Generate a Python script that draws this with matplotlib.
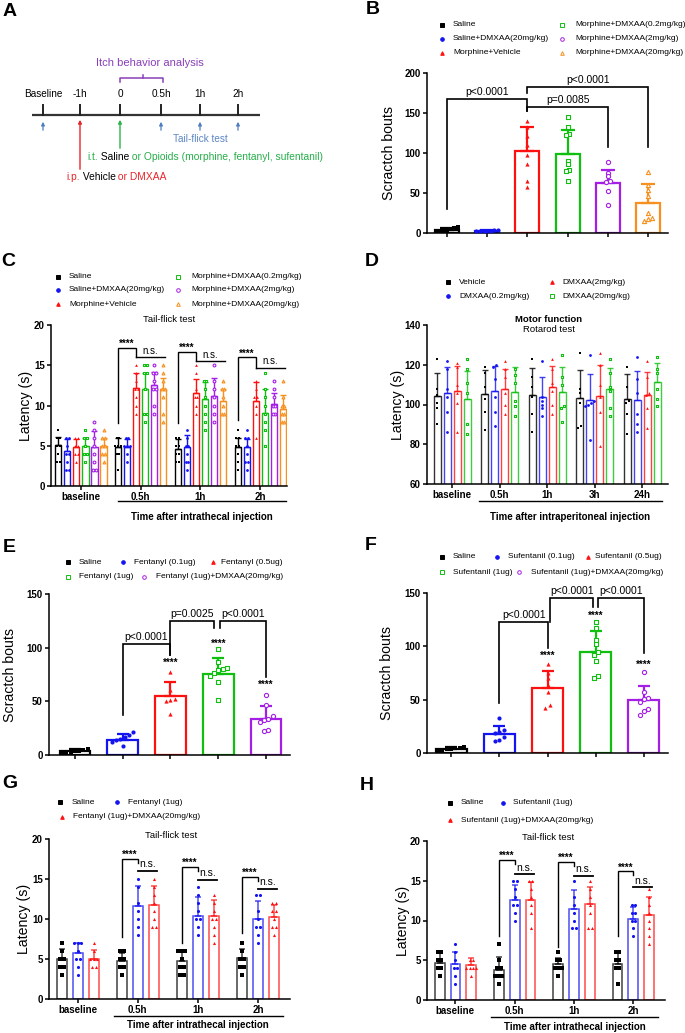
import numpy as np
import matplotlib
matplotlib.use('Agg')
import matplotlib.pyplot as plt
from matplotlib.lines import Line2D
from matplotlib.transforms import blended_transform_factory

plt.rcParams['font.family'] = ['Liberation Sans', 'DejaVu Sans']

# ============================ DATA ============================
# ---- Panel A (timeline) ----
A_times = ['Baseline', '-1h', '0', '0.5h', '1h', '2h']

# ---- Panel B ----
B_labels = ['Saline', 'Saline+DMXAA(20mg/kg)', 'Morphine+Vehicle',
            'Morphine+DMXAA(0.2mg/kg)', 'Morphine+DMXAA(2mg/kg)', 'Morphine+DMXAA(20mg/kg)']
B_mean = [4, 3, 102, 99, 63, 38]
B_sd = [2, 1, 31, 30, 16, 23]
B_points = [
    [2, 3, 4, 5, 6, 7, 3],
    [2, 2, 3, 3, 4, 4, 3],
    [140, 133, 121, 110, 98, 86, 65, 58],
    [145, 132, 124, 122, 90, 86, 79, 78, 65],
    [89, 75, 71, 65, 64, 53, 35],
    [76, 60, 54, 46, 25, 19, 18, 15],
]

# ---- Panel C ----
C_times = ['baseline', '0.5h', '1h', '2h']
C_mean = [
    [5.1, 4.9, 4.6, 4.9],
    [4.4, 4.9, 4.9, 4.9],
    [4.9, 12.2, 11.5, 10.6],
    [5.0, 12.1, 10.8, 9.1],
    [4.8, 12.5, 11.2, 10.2],
    [5.0, 12.0, 10.5, 9.6],
]
C_sd = [
    [1.0, 1.1, 1.3, 1.1],
    [1.5, 1.0, 1.4, 1.0],
    [1.0, 1.8, 1.8, 2.3],
    [1.0, 1.9, 2.1, 3.0],
    [2.0, 1.6, 2.2, 1.4],
    [1.0, 1.4, 1.5, 1.7],
]
C_points = [
    [[7, 6, 6, 5, 5, 4, 3, 3], [6, 6, 5, 5, 5, 4, 4, 2], [6, 6, 5, 5, 4, 4, 3, 3], [7, 6, 6, 5, 5, 4, 3, 2]],
    [[6, 6, 5, 4, 4, 3, 2, 2], [6, 6, 5, 5, 5, 4, 3], [7, 6, 5, 5, 4, 3, 3, 2], [7, 6, 6, 5, 4, 3, 3, 2]],
    [[6, 6, 5, 5, 4, 4, 3], [15, 14, 13, 12, 12, 11, 10, 9], [15, 14, 12, 11, 11, 10, 9], [13, 12, 11, 11, 10, 9, 6]],
    [[7, 6, 6, 5, 4, 4, 3], [15, 15, 14, 14, 12, 9, 9, 8], [13, 13, 12, 11, 10, 9, 8, 7], [14, 12, 11, 10, 9, 8, 7, 5]],
    [[8, 7, 6, 5, 4, 3, 2, 2], [15, 14, 14, 13, 12, 12, 10, 9], [15, 13, 12, 11, 10, 9, 8], [13, 12, 11, 10, 10, 9, 9]],
    [[7, 6, 6, 5, 5, 4, 4, 3], [15, 14, 13, 12, 12, 11, 9, 8], [13, 12, 12, 11, 10, 9, 9], [13, 11, 10, 10, 9, 9, 8, 8]],
]
C_star_top = [17.2, 16.7, 16.0]
C_star_left = [7.8, 7.8, 8.2]
C_ns = [16.0, 15.5, 14.7]

# ---- Panel D ----
D_labels = ['Vehicle', 'DMXAA(0.2mg/kg)', 'DMXAA(2mg/kg)', 'DMXAA(20mg/kg)']
D_times = ['baseline', '0.5h', '1h', '3h', '24h']
D_mean = [
    [104.4, 105.2, 105.0, 103.4, 102.9],
    [105.6, 106.7, 103.9, 102.2, 102.2],
    [106.7, 107.7, 108.7, 104.2, 105.0],
    [102.7, 106.4, 106.4, 107.6, 111.4],
]
D_sd = [
    [11.2, 12.1, 13.4, 13.9, 12.4],
    [13.3, 12.6, 9.7, 13.1, 14.7],
    [12.7, 10.4, 10.6, 15.6, 11.4],
    [14.1, 12.5, 12.5, 11.0, 9.7],
]
D_points = [
    [[123, 108, 105, 101, 98, 90], [119, 116, 109, 103, 96, 87], [123, 114, 109, 104, 95, 86],
     [126, 108, 106, 101, 89, 88], [119, 109, 102, 101, 95, 85]],
    [[122, 118, 108, 104, 96, 86], [120, 119, 113, 104, 96, 89], [122, 104, 102, 100, 98, 94],
     [125, 102, 101, 100, 99, 82], [124, 113, 106, 95, 90, 86]],
    [[121, 119, 110, 106, 101, 86], [122, 118, 114, 106, 100, 95], [123, 118, 111, 107, 100, 95],
     [126, 120, 110, 104, 96, 79], [122, 114, 106, 105, 98, 88]],
    [[123, 118, 111, 106, 90, 85], [118, 115, 111, 102, 99, 94], [125, 114, 110, 99, 98, 91],
     [123, 116, 109, 107, 98, 94], [124, 118, 116, 108, 103, 99]],
]

# ---- Panel E ----
E_labels = ['Saline', 'Fentanyl (0.1ug)', 'Fentanyl (0.5ug)', 'Fentanyl (1ug)',
            'Fentanyl (1ug)+DMXAA(20mg/kg)']
E_mean = [4, 14, 55.4, 75.6, 33.6]
E_sd = [1.5, 5.6, 12.8, 14.7, 12.4]
E_points = [
    [2, 3, 4, 5, 6, 4, 3],
    [21, 19, 17, 15, 14, 12, 8],
    [77, 61, 52, 51, 50, 38],
    [99, 87, 81, 80, 79, 76, 74, 68, 51],
    [56, 47, 36, 34, 33, 31, 23, 22],
]
E_stars = [(2, 86), (3, 104), (4, 65)]

# ---- Panel F ----
F_labels = ['Saline', 'Sufentanil (0.1ug)', 'Sufentanil (0.5ug)', 'Sufentanil (1ug)',
            'Sufentanil (1ug)+DMXAA(20mg/kg)']
F_mean = [4, 17.8, 61, 94.4, 49.4]
F_sd = [1.5, 7.8, 15.6, 20.3, 13.1]
F_points = [
    [2, 3, 4, 5, 6, 5, 4],
    [33, 22, 20, 19, 15, 12, 11],
    [83, 75, 70, 64, 57, 45, 42],
    [123, 117, 106, 102, 95, 92, 86, 72, 70],
    [76, 57, 52, 51, 48, 41, 39, 36],
]
F_stars = [(2, 91), (3, 129), (4, 83)]

# ---- Panel G ----
G_labels = ['Saline', 'Fentanyl (1ug)', 'Fentanyl (1ug)+DMXAA(20mg/kg)']
G_times = ['baseline', '0.5h', '1h', '2h']
G_mean = [
    [5.0, 4.7, 4.7, 5.1],
    [5.7, 11.6, 10.4, 10.0],
    [5.0, 11.75, 10.4, 10.3],
]
G_sd = [
    [1.3, 1.1, 1.3, 1.15],
    [1.3, 2.5, 2.35, 2.3],
    [1.1, 2.35, 2.0, 1.5],
]
G_points = [
    [[7, 6, 5, 5, 4, 4, 3], [6, 6, 5, 5, 4, 4, 3], [6, 6, 6, 5, 4, 4, 3, 3], [7, 6, 5, 5, 4, 4, 3]],
    [[7, 7, 7, 6, 5, 5, 4, 3], [15, 14, 12, 11, 10, 9, 8], [14, 13, 12, 11, 10, 10, 9, 8], [13, 13, 11, 10, 9, 9, 8, 7]],
    [[7, 6, 5, 5, 5, 4, 4], [15, 14, 13, 12, 11, 10, 9, 9], [13, 12, 11, 10, 10, 9, 8, 7], [12, 12, 11, 11, 10, 9, 9, 8]],
]
G_star_top = [17.5, 16.5, 15.3]
G_star_left = [7.8, 7.0, 8.2]
G_ns = [16.0, 14.9, 13.75]

# ---- Panel H ----
H_labels = ['Saline', 'Sufentanil (1ug)', 'Sufentanil (1ug)+DMXAA(20mg/kg)']
H_times = ['baseline', '0.5h', '1h', '2h']
H_mean = [
    [4.7, 3.8, 4.5, 4.5],
    [4.5, 12.55, 11.4, 10.2],
    [4.4, 12.55, 12.05, 10.7],
]
H_sd = [
    [1.15, 1.55, 0.8, 1.4],
    [1.6, 1.95, 2.4, 1.5],
    [0.85, 2.35, 2.15, 2.3],
]
H_points = [
    [[6, 6, 5, 5, 4, 4, 3], [7, 5, 4, 4, 3, 3, 3, 2], [6, 5, 5, 4, 4, 4, 3], [6, 6, 5, 5, 4, 4, 2]],
    [[7, 6, 5, 4, 4, 3, 2], [15, 15, 14, 13, 12, 12, 11, 10], [15, 13, 12, 11, 10, 9, 9], [12, 12, 11, 11, 10, 10, 9, 8]],
    [[5, 5, 4, 4, 4, 4, 3], [15, 15, 14, 13, 12, 11, 9], [15, 14, 13, 12, 11, 9, 9], [14, 13, 12, 11, 10, 9, 8, 7]],
]
H_star_top = [17.6, 17.4, 16.2]
H_star_left = [8.0, 6.7, 8.0]
H_ns = [15.8, 15.6, 14.2]

# ============================ STYLE ============================
BLACK = '#000000'
BLUE = '#1414f0'
RED = '#ff1010'
GREEN = '#10c010'
PURPLE = '#a51ee6'
ORANGE = '#f7901e'
C6_colors = [BLACK, BLUE, RED, GREEN, PURPLE, ORANGE]
C6_markers = ['s', 'o', '^', 's', 'o', '^']
C6_filled = [True, True, True, False, False, False]

LEG_FS = 6.0
TICK_FS = 7.0
YLAB_FS = 10.2
TITLE_FS = 6.8

W, H = 685, 1033
fig = plt.figure(figsize=(W / 100, H / 100), dpi=100)


def add_ax(l, t, r, b):
    return fig.add_axes([l / W, 1 - b / H, (r - l) / W, (b - t) / H])


def fx(px):
    return px / W


def fy(py):
    return 1 - py / H


def style_ax(ax, fs=TICK_FS):
    for s in ['top', 'right']:
        ax.spines[s].set_visible(False)
    for s in ['left', 'bottom']:
        ax.spines[s].set_linewidth(1.1)
    ax.tick_params(width=1.1, length=3, labelsize=fs, pad=1.5)
    for lab in ax.get_yticklabels() + ax.get_xticklabels():
        lab.set_fontweight('bold')


def spread(vals, tol, dx):
    vals = np.asarray(vals, dtype=float)
    order = np.argsort(vals)
    offs = np.zeros(len(vals))
    groups = []
    for idx in order:
        if groups and abs(vals[idx] - vals[groups[-1][-1]]) <= tol:
            groups[-1].append(idx)
        else:
            groups.append([idx])
    for g in groups:
        k = len(g)
        for j, idx in enumerate(g):
            offs[idx] = (j - (k - 1) / 2) * dx
    return offs


def draw_series(ax, xs, means, sds, pts, color, marker, filled, width, lw, cap, ms,
                tol, dx, alpha=1.0):
    xs = np.asarray(xs, dtype=float)
    ax.bar(xs, means, width=width, facecolor='white', edgecolor=color, linewidth=lw,
           alpha=alpha, zorder=2)
    ax.errorbar(xs, means, yerr=[np.zeros(len(sds)), sds], fmt='none', ecolor=color,
                elinewidth=lw, capsize=cap, capthick=lw, alpha=alpha, zorder=3)
    for x, p in zip(xs, pts):
        o = spread(p, tol, dx)
        if filled:
            ax.scatter(x + o, p, s=ms, marker=marker, color=color, linewidths=0, zorder=4,
                       clip_on=False)
        else:
            ax.scatter(x + o, p, s=ms, marker=marker, facecolors='white', edgecolors=color,
                       linewidths=0.8, zorder=4, clip_on=False)


def legend_entry(xm, xt, y, text, color, marker, filled, fs=LEG_FS, msz=2.6):
    mfc = color if filled else 'none'
    fig.add_artist(Line2D([fx(xm)], [fy(y)], transform=fig.transFigure, marker=marker,
                          markersize=msz, color=color, markerfacecolor=mfc,
                          markeredgewidth=0.7, linestyle='none'))
    fig.text(fx(xt), fy(y), text, fontsize=fs, va='center', ha='left')


def bracket(ax, x1, x2, yl, ytop, yr, text, fs=7.5, lw=1.2, dy=2, bold=False):
    ax.plot([x1, x1, x2, x2], [yl, ytop, ytop, yr], color='k', lw=lw, clip_on=False,
            solid_joinstyle='miter', zorder=5)
    ax.text((x1 + x2) / 2, ytop + dy, text, ha='center', va='bottom', fontsize=fs,
            fontweight='bold' if bold else 'normal')


def ylabel_at(ax, text, xright, box, fs=YLAB_FS):
    l, t, r, b = box
    ax.set_ylabel(text, fontsize=fs)
    ax.yaxis.set_label_coords((xright - l) / (r - l), 0.5)


def group_underline(ax, x1, x2, ypx, label, ylab, fs=7.0):
    tr = blended_transform_factory(ax.transData, fig.transFigure)
    ax.plot([x1, x2], [fy(ypx), fy(ypx)], color='k', lw=1.0, transform=tr, clip_on=False)
    ax.text((x1 + x2) / 2, fy(ylab), label, transform=tr, ha='center', va='center',
            fontsize=fs, fontweight='bold')


# ============================ PANEL LETTERS ============================
for letter, (x, y) in zip('ABCDEFGH', [(10, 12), (373, 10), (8, 262), (372, 262),
                                        (9, 547), (371, 545), (10, 783), (367, 786)]):
    fig.text(fx(x), fy(y), letter, fontsize=14, fontweight='bold', ha='center', va='center')

# ============================ PANEL A ============================
axA = add_ax(0, 0, 340, 200)
axA.set_xlim(0, 340)
axA.set_ylim(200, 0)
axA.axis('off')
tpos = [43, 80, 120, 161, 200, 238]
axA.plot([32, 260], [115, 115], color='#333333', lw=1.6, solid_capstyle='butt')
ARROW_BLUE = '#4f7fc0'
for x, lab in zip(tpos, A_times):
    axA.plot([x, x], [105, 115], color='#222222', lw=1.4)
    axA.text(x, 94, lab, ha='center', va='center', fontsize=7.2)
for x in [43, 161, 200, 238]:
    axA.annotate('', xy=(x, 119), xytext=(x, 133),
                 arrowprops=dict(arrowstyle='-|>', color=ARROW_BLUE, lw=0.9, mutation_scale=5))
axA.annotate('', xy=(80, 117), xytext=(80, 172),
             arrowprops=dict(arrowstyle='-|>', color='#e8262a', lw=1.0, mutation_scale=5))
axA.annotate('', xy=(120, 117), xytext=(120, 151),
             arrowprops=dict(arrowstyle='-|>', color='#2db34a', lw=1.0, mutation_scale=5))
axA.text(200, 138.5, 'Tail-flick test', ha='center', va='center', fontsize=7.2, color='#5b86c5')
PURP_A = '#8a3fb8'
axA.text(150, 63, 'Itch behavior analysis', ha='center', va='center', fontsize=8, color=PURP_A)
axA.plot([120, 120, 163, 163], [82, 78, 78, 82], color=PURP_A, lw=1.1)
axA.plot([143, 143], [78, 75], color=PURP_A, lw=1.1)

renderer = fig.canvas.get_renderer()


def color_text(x, y, parts, fs):
    for s, c in parts:
        t = axA.text(x, y, s, color=c, fontsize=fs, va='center', ha='left')
        bb = t.get_window_extent(renderer)
        x += bb.width


G_A = '#27ae4a'
R_A = '#e8262a'
color_text(87, 157.5, [('i.t.', G_A), (' Saline', 'black'),
                       (' or Opioids (morphine, fentanyl, sufentanil)', G_A)], 7.4)
color_text(66, 177.5, [('i.p.', R_A), (' Vehicle', 'black'), (' or DMXAA', R_A)], 7.4)

# ============================ PANEL B ============================
boxB = (427, 73, 668, 233)
axB = add_ax(*boxB)
for i in range(6):
    draw_series(axB, [i], [B_mean[i]], [B_sd[i]], [B_points[i]], C6_colors[i], C6_markers[i],
                C6_filled[i], width=0.6, lw=1.6, cap=4.7, ms=9, tol=3.5, dx=0.09)
axB.set_xlim(-0.5, 5.5)
axB.set_ylim(0, 200)
axB.set_yticks([0, 50, 100, 150, 200])
axB.set_xticks(range(6))
axB.set_xticklabels([])
style_ax(axB)
ylabel_at(axB, 'Scractch bouts', 396, boxB)
bracket(axB, 0, 2, 30, 168, 152, 'p<0.0001', dy=2.5)
bracket(axB, 2, 4, 152, 157, 108, 'p=0.0085', dy=2.5)
bracket(axB, 2, 5, 175, 182, 108, 'p<0.0001', dy=2.5)
for i, (xm, xt, y) in enumerate([(442, 453, 25), (442, 453, 39), (442, 453, 53),
                                  (562, 575, 25), (562, 575, 39), (562, 575, 53)]):
    legend_entry(xm, xt, y, B_labels[i], C6_colors[i], C6_markers[i], C6_filled[i])

# ============================ PANEL C ============================
boxC = (51, 325, 287, 486)
axC = add_ax(*boxC)
gapC = 6.6
for i in range(6):
    xs = [g * gapC + i for g in range(4)]
    draw_series(axC, xs, C_mean[i], C_sd[i], C_points[i], C6_colors[i], C6_markers[i],
                C6_filled[i], width=0.68, lw=1.0, cap=2, ms=4, tol=0.3, dx=0.3)
axC.set_xlim(-0.8, 3 * gapC + 5.45)
axC.set_ylim(0, 20)
axC.set_yticks([0, 5, 10, 15, 20])
axC.set_xticks([g * gapC + 2.5 for g in range(4)])
axC.set_xticklabels(C_times)
style_ax(axC)
ylabel_at(axC, 'Latency (s)', 33, boxC)
axC.set_title('Tail-flick test', fontsize=TITLE_FS, pad=2)
for g in range(1, 4):
    x0 = g * gapC
    bracket(axC, x0, x0 + 2, C_star_left[g - 1], C_star_top[g - 1], C_ns[g - 1], '****',
            fs=7, lw=1.0, dy=-0.15, bold=True)
    axC.plot([x0 + 2, x0 + 5.2], [C_ns[g - 1]] * 2, color='k', lw=1.0, zorder=5)
    axC.text(x0 + 3.6, C_ns[g - 1] + 0.2, 'n.s.', ha='center', va='bottom', fontsize=7)
group_underline(axC, gapC, 3 * gapC + 5.3, 501, 'Time after intrathecal injection', 517)
for i, (xm, xt, y) in enumerate([(58, 69, 277), (58, 69, 290), (58, 69, 304),
                                  (178, 191, 277), (178, 191, 290), (178, 191, 304)]):
    legend_entry(xm, xt, y, B_labels[i], C6_colors[i], C6_markers[i], C6_filled[i])

# ============================ PANEL D ============================
boxD = (427, 325, 668, 484)
axD = add_ax(*boxD)
gapD = 4.7
D_colors = [BLACK, BLUE, RED, GREEN]
D_markers = ['s', 'o', '^', 's']
D_filled = [True, True, True, False]
for i in range(4):
    xs = [g * gapD + i for g in range(5)]
    draw_series(axD, xs, D_mean[i], D_sd[i], D_points[i], D_colors[i], D_markers[i],
                D_filled[i], width=0.7, lw=1.0, cap=2, ms=4, tol=1.2, dx=0.3, alpha=0.8)
axD.set_xlim(-1.0, 4 * gapD + 4.05)
axD.set_ylim(60, 140)
axD.set_yticks([60, 80, 100, 120, 140])
axD.set_xticks([g * gapD + 1.5 for g in range(5)])
axD.set_xticklabels(D_times)
style_ax(axD)
ylabel_at(axD, 'Latency (s)', 405, boxD)
fig.text(fx(549), fy(319), 'Motor function', fontsize=6.8, fontweight='bold', ha='center', va='center')
fig.text(fx(549), fy(330), 'Rotarod test', fontsize=6.8, ha='center', va='center')
group_underline(axD, gapD - 0.6, 4 * gapD + 3.5, 501, 'Time after intraperitoneal injection', 517)
for i, (xm, xt, y) in enumerate([(448, 459, 282), (448, 459, 296), (552, 562, 282), (552, 562, 296)]):
    legend_entry(xm, xt, y, D_labels[i], D_colors[i], D_markers[i], D_filled[i])

# ============================ PANEL E ============================
E_colors = [BLACK, BLUE, RED, GREEN, PURPLE]
E_markers = ['s', 'o', '^', 's', 'o']
E_filled = [True, True, True, False, False]
boxE = (49, 594, 290, 755)
axE = add_ax(*boxE)
for i in range(5):
    draw_series(axE, [i], [E_mean[i]], [E_sd[i]], [E_points[i]], E_colors[i], E_markers[i],
                E_filled[i], width=0.64, lw=1.6, cap=4.5, ms=9, tol=3, dx=0.09)
axE.set_xlim(-0.54, 4.5)
axE.set_ylim(0, 150)
axE.set_yticks([0, 50, 100, 150])
axE.set_xticks(range(5))
axE.set_xticklabels([])
style_ax(axE)
ylabel_at(axE, 'Scractch bouts', 17, boxE)
bracket(axE, 1, 2, 37, 103, 93, 'p<0.0001', dy=2)
bracket(axE, 2, 2.92, 93, 125, 118, 'p=0.0025', dy=2)
bracket(axE, 3.03, 4, 118, 125, 73, 'p<0.0001', dy=2)
for x, y in E_stars:
    axE.text(x, y, '****', ha='center', va='center', fontsize=7, fontweight='bold')
for i, (xm, xt, y) in enumerate([(68, 79, 562), (123, 134, 562), (213, 221, 562),
                                  (68, 79, 577), (144, 156, 577)]):
    legend_entry(xm, xt, y, E_labels[i], E_colors[i], E_markers[i], E_filled[i])

# ============================ PANEL F ============================
boxF = (427, 593, 668, 753)
axF = add_ax(*boxF)
for i in range(5):
    draw_series(axF, [i], [F_mean[i]], [F_sd[i]], [F_points[i]], E_colors[i], E_markers[i],
                E_filled[i], width=0.64, lw=1.6, cap=4.5, ms=9, tol=3, dx=0.09)
axF.set_xlim(-0.5, 4.5)
axF.set_ylim(0, 150)
axF.set_yticks([0, 50, 100, 150])
axF.set_xticks(range(5))
axF.set_xticklabels([])
style_ax(axF)
ylabel_at(axF, 'Scractch bouts', 394, boxF)
bracket(axF, 1, 2.02, 47, 123, 98, 'p<0.0001', dy=2)
bracket(axF, 2.05, 2.95, 123, 145, 137, 'p<0.0001', dy=2)
bracket(axF, 3.05, 4, 137, 145, 94, 'p<0.0001', dy=2)
for x, y in F_stars:
    axF.text(x, y, '****', ha='center', va='center', fontsize=7, fontweight='bold')
for i, (xm, xt, y) in enumerate([(442, 453, 557), (497, 508, 557), (588, 595, 557),
                                  (442, 453, 572), (519, 531, 572)]):
    legend_entry(xm, xt, y, F_labels[i], E_colors[i], E_markers[i], E_filled[i])

# ============================ PANELS G / H ============================
GH_colors = [BLACK, BLUE, RED]
GH_markers = ['s', 'o', '^']


def tail_panel(box, means, sds, pts, times, star_top, star_left, ns, ylab_x, under, xlab_y,
               title_xy):
    ax = add_ax(*box)
    gap = 3.75
    for i in range(3):
        xs = [g * gap + i for g in range(4)]
        draw_series(ax, xs, means[i], sds[i], pts[i], GH_colors[i], GH_markers[i], True,
                    width=0.62, lw=1.1, cap=2.5, ms=5, tol=0.3, dx=0.22, alpha=0.75)
    ax.set_xlim(-0.8, 3 * gap + 3.0)
    ax.set_ylim(0, 20)
    ax.set_yticks([0, 5, 10, 15, 20])
    ax.set_xticks([g * gap + 1 for g in range(4)])
    ax.set_xticklabels(times)
    style_ax(ax)
    ylabel_at(ax, 'Latency (s)', ylab_x, box)
    fig.text(fx(title_xy[0]), fy(title_xy[1]), 'Tail-flick test', fontsize=TITLE_FS,
             ha='center', va='center')
    for g in range(1, 4):
        x0 = g * gap
        bracket(ax, x0, x0 + 1, star_left[g - 1], star_top[g - 1], star_top[g - 1] - 0.5,
                '****', fs=7, lw=1.0, dy=-0.15, bold=True)
        ax.plot([x0 + 1, x0 + 2.2], [ns[g - 1]] * 2, color='k', lw=1.3, zorder=5)
        ax.text(x0 + 1.6, ns[g - 1] + 0.2, 'n.s.', ha='center', va='bottom', fontsize=7.5)
    group_underline(ax, gap - 0.5, 3 * gap + 2.55, under, 'Time after intrathecal injection', xlab_y)
    return ax


tail_panel((49, 839, 290, 999), G_mean, G_sd, G_points, G_times, G_star_top, G_star_left,
           G_ns, 31, 1016, 1025, (171, 836))
for i, (xm, xt, y) in enumerate([(60, 72, 802), (117, 128, 802), (62, 73, 817)]):
    legend_entry(xm, xt, y, G_labels[i], GH_colors[i], GH_markers[i], True)

tail_panel((427, 841, 665, 1000), H_mean, H_sd, H_points, H_times, H_star_top, H_star_left,
           H_ns, 410, 1017, 1027, (548, 837))
for i, (xm, xt, y) in enumerate([(450, 461, 803), (503, 513, 803), (450, 461, 820)]):
    legend_entry(xm, xt, y, H_labels[i], GH_colors[i], GH_markers[i], True)

fig.savefig('out.png', dpi=100)
